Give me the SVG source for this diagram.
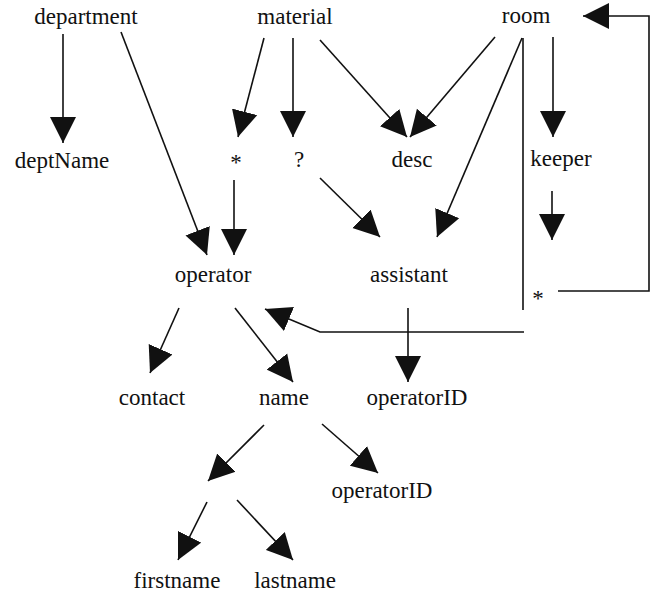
<svg xmlns="http://www.w3.org/2000/svg" width="659" height="596" viewBox="0 0 659 596">
<style>
.t{font-size:23px;fill:#111;text-anchor:middle}
.c line,.c polyline{stroke:#111;stroke-width:1.6;fill:none}
</style>
<defs>
<marker id="ah" markerUnits="userSpaceOnUse" markerWidth="27" markerHeight="27" refX="26" refY="13" orient="auto" viewBox="0 0 27 26">
<path d="M0,0 L26,13 L0,26 z" fill="#111"/>
</marker>
</defs>
<rect width="659" height="596" fill="#fff"/>
<g class="c" id="connectors">
<line x1="63" y1="34" x2="63" y2="143" marker-end="url(#ah)"/>
<line x1="121" y1="32" x2="207" y2="255" marker-end="url(#ah)"/>
<line x1="264" y1="38" x2="238" y2="137" marker-end="url(#ah)"/>
<line x1="293" y1="38" x2="293" y2="137" marker-end="url(#ah)"/>
<line x1="320" y1="40" x2="407" y2="137" marker-end="url(#ah)"/>
<line x1="495" y1="37" x2="410" y2="137" marker-end="url(#ah)"/>
<line x1="522" y1="38" x2="437" y2="237" marker-end="url(#ah)"/>
<line x1="523" y1="38" x2="523" y2="310"/>
<line x1="553" y1="37" x2="553" y2="137" marker-end="url(#ah)"/>
<line x1="552" y1="191" x2="552" y2="240" marker-end="url(#ah)"/>
<polyline points="558,291 649,291 649,16 583,16" marker-end="url(#ah)"/>
<polyline points="524,332 320,332 265,309" marker-end="url(#ah)"/>
<line x1="234" y1="180" x2="234" y2="255" marker-end="url(#ah)"/>
<line x1="320" y1="178" x2="380" y2="237" marker-end="url(#ah)"/>
<line x1="408" y1="308" x2="408" y2="382" marker-end="url(#ah)"/>
<line x1="179" y1="308" x2="150" y2="373" marker-end="url(#ah)"/>
<line x1="235" y1="308" x2="293" y2="382" marker-end="url(#ah)"/>
<line x1="264" y1="425" x2="208" y2="481" marker-end="url(#ah)"/>
<line x1="322" y1="424" x2="378" y2="473" marker-end="url(#ah)"/>
<line x1="207" y1="502" x2="178" y2="560" marker-end="url(#ah)"/>
<line x1="237" y1="500" x2="293" y2="560" marker-end="url(#ah)"/>
</g>
<g font-family="Liberation Serif, DejaVu Serif, serif">
<g id="n-department"><text class="t" x="86" y="24">department</text></g>
<g id="n-material"><text class="t" x="295" y="24">material</text></g>
<g id="n-room"><text class="t" x="526" y="23">room</text></g>
<g id="n-deptName"><text class="t" x="62" y="168">deptName</text></g>
<g id="n-star1"><text class="t" x="236" y="170">*</text></g>
<g id="n-q"><text class="t" x="299" y="167">?</text></g>
<g id="n-desc"><text class="t" x="412" y="167">desc</text></g>
<g id="n-keeper"><text class="t" x="561" y="166">keeper</text></g>
<g id="n-operator"><text class="t" x="213" y="282">operator</text></g>
<g id="n-assistant"><text class="t" x="409" y="282">assistant</text></g>
<g id="n-star2"><text class="t" x="538" y="306">*</text></g>
<g id="n-contact"><text class="t" x="152" y="405">contact</text></g>
<g id="n-name"><text class="t" x="284" y="405">name</text></g>
<g id="n-operatorID1"><text class="t" x="417" y="405">operatorID</text></g>
<g id="n-operatorID2"><text class="t" x="382" y="498">operatorID</text></g>
<g id="n-firstname"><text class="t" x="177" y="588">firstname</text></g>
<g id="n-lastname"><text class="t" x="295" y="588">lastname</text></g>
</g>
</svg>
